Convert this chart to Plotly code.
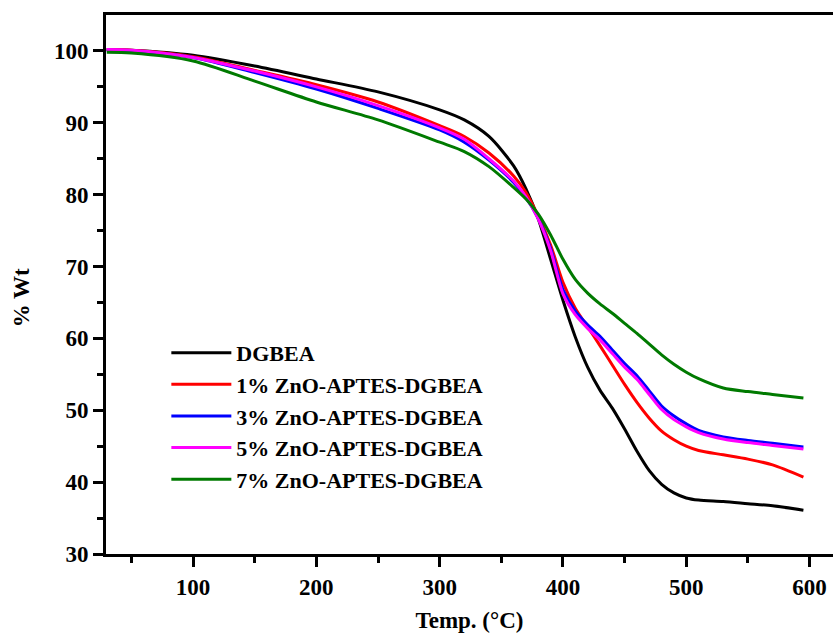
import plotly.graph_objects as go

temps = [30, 50, 100, 150, 200, 250, 300, 320, 340, 360, 370, 380, 390, 400, 410,
         420, 430, 440, 450, 460, 470, 480, 490, 500, 510, 530, 550, 570, 595]

dgbea = [100.2, 100.1, 99.4, 97.9, 96.1, 94.3, 91.8, 90.4, 88.1, 84.0, 80.8, 76.6, 71.0, 65.3, 60.2,
         56.0, 52.8, 50.3, 47.4, 44.3, 41.6, 39.7, 38.5, 37.8, 37.5, 37.3, 37.0, 36.7, 36.1]
zno1 = [100.2, 100.1, 99.2, 97.3, 95.3, 92.9, 89.6, 88.1, 85.8, 82.6, 80.3, 77.0, 73.0, 67.8, 64.2,
        61.6, 59.0, 56.3, 53.6, 51.1, 48.9, 47.1, 45.9, 45.0, 44.4, 43.8, 43.2, 42.4, 40.7]
zno3 = [100.1, 100.0, 99.1, 97.0, 94.7, 92.0, 89.0, 87.3, 84.8, 81.7, 79.6, 76.7, 72.5, 66.8, 63.8,
        61.9, 60.3, 58.4, 56.5, 54.8, 52.7, 50.6, 49.2, 48.1, 47.2, 46.3, 45.8, 45.4, 44.9]
zno5 = [100.2, 100.1, 99.1, 97.2, 95.0, 92.4, 89.3, 87.7, 85.0, 81.9, 79.7, 76.6, 72.2, 66.2, 63.3,
        61.4, 59.8, 57.9, 56.0, 54.3, 52.2, 50.1, 48.7, 47.7, 46.9, 46.0, 45.5, 45.1, 44.6]
zno7 = [99.8, 99.7, 98.6, 95.8, 92.9, 90.4, 87.3, 86.0, 83.9, 81.0, 79.4, 77.3, 74.4, 71.0, 68.2,
        66.3, 64.8, 63.5, 62.1, 60.7, 59.2, 57.7, 56.4, 55.3, 54.4, 53.1, 52.6, 52.2, 51.7]

names = ["DGBEA", "1% ZnO-APTES-DGBEA", "3% ZnO-APTES-DGBEA",
         "5% ZnO-APTES-DGBEA", "7% ZnO-APTES-DGBEA"]
series = [dgbea, zno1, zno3, zno5, zno7]
colors = ["#000000", "#ff0000", "#0000ff", "#ff00ff", "#007a00"]

FONT = "Liberation Serif"

fig = go.Figure()
for name, vals, col in zip(names, series, colors):
    fig.add_trace(go.Scatter(x=temps, y=vals, mode="lines", name=name,
                             line=dict(color=col, width=3, shape="spline", smoothing=0.8)))

axis_common = dict(
    showline=True, linecolor="black", linewidth=3,
    ticks="outside", ticklen=10, tickwidth=2.5, tickcolor="black",
    showgrid=False, zeroline=False, ticklabeloverflow="allow",
    tickfont=dict(family=FONT, size=23, color="black", weight="bold"),
)

fig.update_layout(
    width=833, height=634,
    margin=dict(l=106, r=0, t=15, b=80),
    paper_bgcolor="white", plot_bgcolor="white",
    showlegend=True,
    legend=dict(x=0.083, y=0.412, xanchor="left", yanchor="top",
                font=dict(family=FONT, size=22, color="black", weight="bold"),
                bgcolor="rgba(0,0,0,0)", itemwidth=60, tracegroupgap=0),
    xaxis=dict(range=[29.4, 619], tickmode="array", tickvals=[100, 200, 300, 400, 500, 600],
               minor=dict(tickvals=[50, 150, 250, 350, 450, 550], ticks="outside",
                          ticklen=6, tickwidth=2.5, tickcolor="black"),
               mirror=True,
               title=dict(text="Temp. (°C)", standoff=14,
                          font=dict(family=FONT, size=23, color="black", weight="bold")),
               **axis_common),
    yaxis=dict(range=[30, 105], tickmode="array", tickvals=[30, 40, 50, 60, 70, 80, 90, 100],
               minor=dict(tickvals=[35, 45, 55, 65, 75, 85, 95], ticks="outside",
                          ticklen=6, tickwidth=2.5, tickcolor="black"),
               mirror=False,
               **axis_common),
    annotations=[dict(text="% Wt", textangle=-90, xref="paper", yref="paper",
                      x=-0.115, y=0.475, xanchor="center", yanchor="middle", showarrow=False,
                      font=dict(family=FONT, size=23, color="black", weight="bold"))],
)

fig.write_html("out.html",
               config={"displayModeBar": False},
               post_script="document.body.style.margin='0';"
                           "document.documentElement.style.overflow='hidden';"
                           "document.body.style.overflow='hidden';")
